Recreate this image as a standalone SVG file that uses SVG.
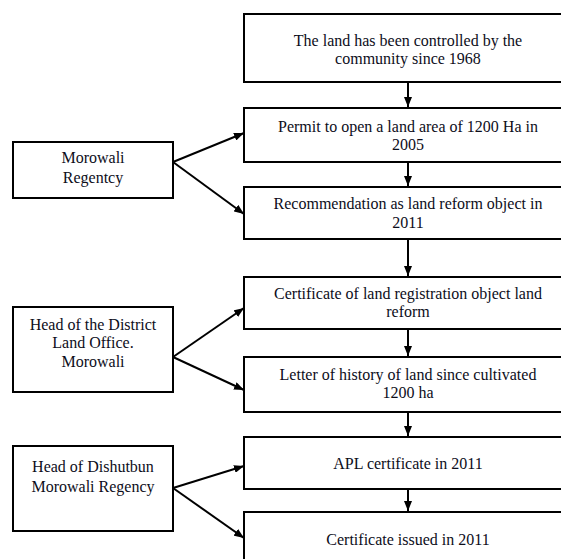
<svg xmlns="http://www.w3.org/2000/svg" width="561" height="559" viewBox="0 0 561 559">
<defs>
<marker id="ah" markerWidth="10" markerHeight="8" refX="10" refY="4" orient="auto" markerUnits="userSpaceOnUse">
<path d="M0,0 L10,4 L0,8 Z" fill="#000"/>
</marker>
<style>
.box{fill:#fff;stroke:#000;stroke-width:2}
.t{font-family:"Liberation Serif","Times New Roman",serif;font-size:16px;fill:#0d0d1a;text-anchor:middle}
.c{stroke:#000;stroke-width:2;fill:none;marker-end:url(#ah)}
</style>
</defs>
<rect width="561" height="559" fill="#fff"/>
<g id="n1"><rect class="box" x="244" y="14" width="330" height="68"/><text class="t" x="408" y="46">The land has been controlled by the</text><text class="t" x="408" y="64">community since 1968</text></g>
<g id="n2"><rect class="box" x="244" y="108" width="330" height="54"/><text class="t" x="408" y="132">Permit to open a land area of 1200 Ha in</text><text class="t" x="408" y="150">2005</text></g>
<g id="n3"><rect class="box" x="244" y="187" width="330" height="52"/><text class="t" x="408" y="209">Recommendation as land reform object in</text><text class="t" x="408" y="228">2011</text></g>
<g id="n4"><rect class="box" x="244" y="277" width="330" height="52"/><text class="t" x="408" y="299">Certificate of land registration object land</text><text class="t" x="408" y="317">reform</text></g>
<g id="n5"><rect class="box" x="244" y="357" width="330" height="55"/><text class="t" x="408" y="380">Letter of history of land since cultivated</text><text class="t" x="408" y="398">1200 ha</text></g>
<g id="n6"><rect class="box" x="244" y="437" width="330" height="52"/><text class="t" x="408" y="469">APL certificate in 2011</text></g>
<g id="n7"><rect class="box" x="244" y="512" width="330" height="60"/><text class="t" x="408" y="545">Certificate issued in 2011</text></g>
<g id="l1"><rect class="box" x="13" y="142" width="160" height="56"/><text class="t" x="93" y="163">Morowali</text><text class="t" x="93" y="183">Regentcy</text></g>
<g id="l2"><rect class="box" x="13" y="307" width="160" height="85"/><text class="t" x="93" y="330">Head of the District</text><text class="t" x="93" y="348">Land Office.</text><text class="t" x="93" y="367">Morowali</text></g>
<g id="l3"><rect class="box" x="13" y="446" width="160" height="85"/><text class="t" x="93" y="472">Head of Dishutbun</text><text class="t" x="93" y="492">Morowali Regency</text></g>
<g id="connectors">
<line class="c" x1="408" y1="82" x2="408" y2="107"/>
<line class="c" x1="408" y1="162" x2="408" y2="186"/>
<line class="c" x1="408" y1="239" x2="408" y2="276"/>
<line class="c" x1="408" y1="329" x2="408" y2="356"/>
<line class="c" x1="408" y1="412" x2="408" y2="436"/>
<line class="c" x1="408" y1="489" x2="408" y2="511"/>
<line class="c" x1="173" y1="162" x2="244" y2="133"/>
<line class="c" x1="173" y1="162" x2="244" y2="214"/>
<line class="c" x1="173" y1="357" x2="244" y2="308"/>
<line class="c" x1="173" y1="357" x2="244" y2="390"/>
<line class="c" x1="173" y1="488" x2="244" y2="466"/>
<line class="c" x1="173" y1="488" x2="244" y2="538"/>
</g>
</svg>
